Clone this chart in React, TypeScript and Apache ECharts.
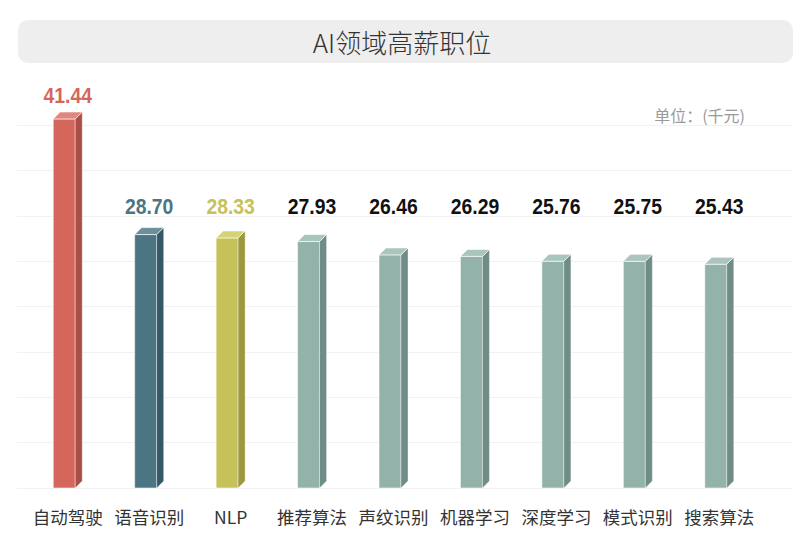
import React, { useEffect, useRef } from "react";
import * as echarts from "echarts";

const categories = ["自动驾驶", "语音识别", "NLP", "推荐算法", "声纹识别", "机器学习", "深度学习", "模式识别", "搜索算法"];
const salaries = [41.44, 28.7, 28.33, 27.93, 26.46, 26.29, 25.76, 25.75, 25.43];
const yTicks = [0, 5, 10, 15, 20, 25, 30, 35, 40];

const faceColors = ["#d4665c", "#4c7583", "#c6c158", "#93b2aa", "#93b2aa", "#93b2aa", "#93b2aa", "#93b2aa", "#93b2aa"];
const sideColors = ["#a94f47", "#355866", "#9c9840", "#6f8d86", "#6f8d86", "#6f8d86", "#6f8d86", "#6f8d86", "#6f8d86"];
const topColors = ["#e0877f", "#6a909d", "#d6d27a", "#aac5be", "#aac5be", "#aac5be", "#aac5be", "#aac5be", "#aac5be"];
const labelColors = ["#d4665c", "#4c7583", "#c6c158", "#111111", "#111111", "#111111", "#111111", "#111111", "#111111"];

const LABEL_FLOOR = 29.2;

export default function App() {
  const ref = useRef<HTMLDivElement>(null);
  useEffect(() => {
    if (!ref.current) return;
    const chart = echarts.init(ref.current, null, { renderer: "svg" });
    const numFont = "'Liberation Sans', Arial, sans-serif";
    const cjk = "'Noto Sans CJK SC', 'Noto Sans', sans-serif";
    chart.setOption({
      animation: false,
      backgroundColor: "#ffffff",
      title: [
        {
          text: "AI领域高薪职位",
          left: "center",
          top: 22,
          textStyle: { fontSize: 26, fontWeight: 300, color: "#333333", fontFamily: cjk, lineHeight: 28 },
        },
        {
          text: "单位：(千元)",
          right: 54,
          top: 102,
          textStyle: { fontSize: 16, fontWeight: "normal", color: "#9a9a9a", fontFamily: cjk },
        },
      ],
      graphic: [
        {
          type: "rect",
          z: -10,
          shape: { x: 18, y: 20, width: 775, height: 43, r: 10 },
          style: { fill: "#eeeeee" },
        },
      ],
      grid: [
        { left: 17, right: 11, top: 125, bottom: 69 },
        { left: 27, right: 44, top: 125, bottom: 69 },
      ],
      xAxis: [
        { gridIndex: 0, type: "value", show: false, min: 0, max: 1 },
        {
          gridIndex: 1,
          type: "category",
          data: categories,
          axisLine: { show: false },
          axisTick: { show: false },
          axisLabel: { fontSize: 17.5, color: "#333333", margin: 20, fontFamily: cjk, interval: 0 },
        },
      ],
      yAxis: [
        {
          gridIndex: 0,
          type: "value",
          min: yTicks[0],
          max: yTicks[yTicks.length - 1],
          interval: yTicks[1] - yTicks[0],
          axisLabel: { show: false },
          axisLine: { show: false },
          axisTick: { show: false },
          splitLine: { show: true, lineStyle: { color: "#f1f1f1", width: 1 } },
        },
        {
          gridIndex: 1,
          type: "value",
          min: yTicks[0],
          max: yTicks[yTicks.length - 1],
          show: false,
          splitLine: { show: false },
        },
      ],
      series: [
        {
          type: "custom",
          xAxisIndex: 1,
          yAxisIndex: 1,
          clip: false,
          data: salaries.map((v, i) => [i, v]),
          renderItem: (params: any, api: any) => {
            const idx = api.value(0);
            const val = api.value(1);
            const top = api.coord([idx, val]);
            const base = api.coord([idx, 0]);
            const cx = top[0];
            const d = 7;
            const half = 14.5;
            const fx1 = cx - half;
            const fx2 = cx + half - d;
            const t = top[1];
            const b = base[1];
            const labelPos = api.coord([idx, Math.max(val, LABEL_FLOOR)]);
            const i = params.dataIndex;
            return {
              type: "group",
              children: [
                {
                  type: "rect",
                  shape: { x: fx1, y: t + d, width: fx2 - fx1, height: b - t - d },
                  style: { fill: faceColors[i], stroke: "rgba(255,255,255,0.7)", lineWidth: 0.8 },
                },
                {
                  type: "polygon",
                  shape: { points: [[fx2, t + d], [fx2 + d, t], [fx2 + d, b - d], [fx2, b]] },
                  style: { fill: sideColors[i], stroke: "rgba(255,255,255,0.6)", lineWidth: 0.6 },
                },
                {
                  type: "polygon",
                  shape: { points: [[fx1, t + d], [fx1 + d, t], [fx2 + d, t], [fx2, t + d]] },
                  style: { fill: topColors[i], stroke: "rgba(255,255,255,0.8)", lineWidth: 0.8 },
                },
                {
                  type: "text",
                  x: cx,
                  y: labelPos[1] - 16.5,
                  scaleX: 0.88,
                  style: {
                    text: val.toFixed(2),
                    fill: labelColors[i],
                    font: `bold 22px ${numFont}`,
                    textAlign: "center",
                    textVerticalAlign: "middle",
                  },
                },
              ],
            };
          },
        },
      ],
    });
    return () => chart.dispose();
  }, []);
  return <div ref={ref} style={{ position: "fixed", left: 0, top: 0, width: 804, height: 557 }} />;
}
